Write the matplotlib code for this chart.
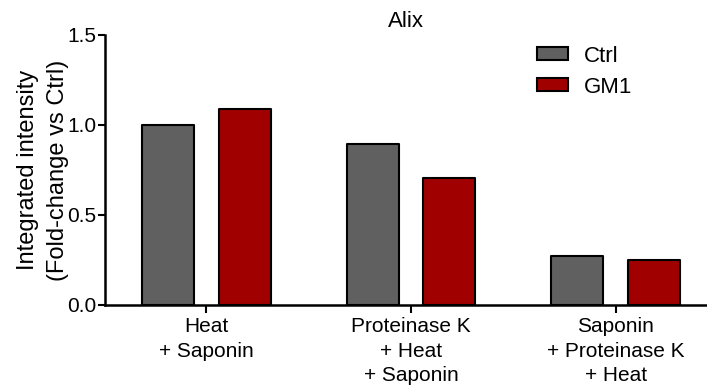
import matplotlib
matplotlib.use("Agg")
import matplotlib.pyplot as plt
import numpy as np

plt.rcParams['font.family'] = ['Liberation Sans', 'DejaVu Sans']

groups = ["Heat\n+ Saponin", "Proteinase K\n+ Heat\n+ Saponin", "Saponin\n+ Proteinase K\n+ Heat"]
ctrl = [1.0, 0.893, 0.272]
gm1 = [1.089, 0.704, 0.248]
series_names = ["Ctrl", "GM1"]
colors = ["#606060", "#a00000"]

x = np.arange(len(groups))
w = 0.254
off = 0.188

fig = plt.figure(figsize=(7.07, 3.87), dpi=100)
ax = fig.add_axes([0.1485, 0.2119, 0.8515, 0.6977])

ax.bar(x - off, ctrl, w, color=colors[0], edgecolor="black", linewidth=1.5, label=series_names[0], joinstyle="round")
ax.bar(x + off, gm1, w, color=colors[1], edgecolor="black", linewidth=1.5, label=series_names[1], joinstyle="round")

ax.set_xlim(-0.496, 2.447)
ax.set_ylim(0, 1.5)
ax.set_yticks([0.0, 0.5, 1.0, 1.5])
ax.set_yticklabels(["0.0", "0.5", "1.0", "1.5"])
ax.set_xticks(x)
ax.set_xticklabels(groups, fontsize=15, va="top", linespacing=1.35)
ax.tick_params(axis="y", labelsize=15, width=1.5, length=5, pad=1)
ax.tick_params(axis="x", width=1.5, length=6, pad=3)

for s in ["top", "right"]:
    ax.spines[s].set_visible(False)
for s in ["left", "bottom"]:
    ax.spines[s].set_linewidth(1.8)

ax.set_ylabel("Integrated intensity\n(Fold-change vs Ctrl)", fontsize=17, labelpad=-1, linespacing=1.45)
ax.set_title("Alix", fontsize=16, pad=6)

ax.legend(loc="upper left", bbox_to_anchor=(0.685, 1.035), frameon=False, fontsize=16,
          handlelength=1.4, handleheight=0.5, handletextpad=0.7, labelspacing=0.45)

fig.savefig("out.png", dpi=100)
